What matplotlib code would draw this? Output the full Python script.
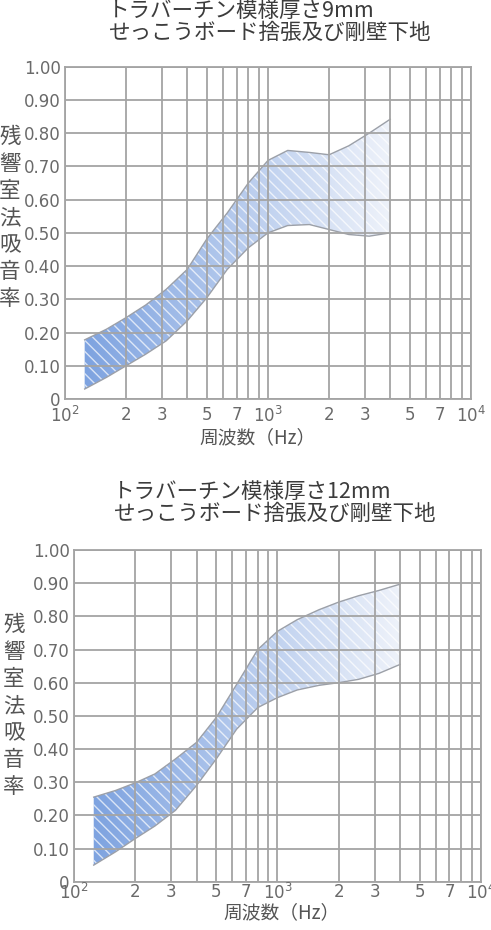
import numpy as np
import matplotlib.pyplot as plt
from matplotlib.colors import LinearSegmentedColormap

plt.rcParams['font.family'] = ['Noto Sans CJK JP', 'DejaVu Sans']
plt.rcParams['mathtext.fontset'] = 'dejavusans'
plt.rcParams['hatch.linewidth'] = 1.0

# 1/3 octave centre frequencies (Hz)
freqs = [125, 160, 200, 250, 315, 400, 500, 630, 800, 1000, 1250, 1600, 2000, 2500, 3150, 4000]

# 9mm board: upper / lower limits of the band
upper_9mm = [0.178, 0.21, 0.245, 0.283, 0.33, 0.39, 0.482, 0.56, 0.65, 0.718, 0.748, 0.742, 0.735, 0.762, 0.80, 0.842]
lower_9mm = [0.03, 0.065, 0.10, 0.135, 0.175, 0.235, 0.305, 0.39, 0.455, 0.50, 0.522, 0.525, 0.51, 0.495, 0.49, 0.50]

# 12mm board
upper_12mm = [0.255, 0.275, 0.298, 0.325, 0.37, 0.42, 0.495, 0.595, 0.70, 0.755, 0.79, 0.82, 0.843, 0.862, 0.878, 0.897]
lower_12mm = [0.05, 0.09, 0.13, 0.168, 0.215, 0.29, 0.37, 0.46, 0.525, 0.555, 0.578, 0.592, 0.60, 0.61, 0.628, 0.655]

titles = ['トラバーチン模様厚さ9mm\nせっこうボード捨張及び剛壁下地',
          'トラバーチン模様厚さ12mm\nせっこうボード捨張及び剛壁下地']
ytick_vals = [0, 0.1, 0.2, 0.3, 0.4, 0.5, 0.6, 0.7, 0.8, 0.9, 1.0]
ytick_labels = ['0', '0.10', '0.20', '0.30', '0.40', '0.50', '0.60', '0.70', '0.80', '0.90', '1.00']
xlabelled = {100: r'$10^2$', 200: '2', 300: '3', 500: '5', 700: '7',
             1000: r'$10^3$', 2000: '2', 3000: '3', 5000: '5', 7000: '7', 10000: r'$10^4$'}
ylabel = '残響室法吸音率'
xlabel = '周波数（Hz）'

grid_col = '#a4a4a4'
text_col = '#6a6a6a'
band_cmap = LinearSegmentedColormap.from_list('band', ['#7ea3e0', '#eef2fa'])

W, H = 491, 930
fig = plt.figure(figsize=(W / 100, H / 100), dpi=100)


def panel(rect, lower, upper, title, title_xy, ylab_x, ylab_y0, xlab_pos, xpad):
    ax = fig.add_axes(rect)
    ax.set_xscale('log')
    ax.set_xlim(100, 10000)
    ax.set_ylim(0, 1)
    ax.set_autoscale_on(False)

    # hatched band (white stripes) + gradient underneath, clipped to band
    band = ax.fill_between(freqs, lower, upper, facecolor='none',
                           edgecolor=(1, 1, 1, 0.7), hatch='\\' * 3,
                           linewidth=0, zorder=1.2)
    xa = np.linspace(0, 1, 400)
    a0 = (np.log10(freqs[0]) - 2) / 2
    a1 = (np.log10(freqs[-1]) - 2) / 2
    grad = np.clip((xa - a0) / (a1 - a0), 0, 1).reshape(1, -1)
    im = ax.imshow(grad, cmap=band_cmap, extent=[0, 1, 0, 1], transform=ax.transAxes,
                   aspect='auto', zorder=1, interpolation='bilinear')
    im.set_clip_path(band.get_paths()[0], transform=band.get_transform())
    ax.plot(freqs, upper, color='#9ca0a8', lw=1.0, zorder=1.3)
    ax.plot(freqs, lower, color='#9ca0a8', lw=1.0, zorder=1.3)

    # grid at every 1..9 x decade
    xgrid = [m * 10 ** d for d in (2, 3) for m in range(1, 10)] + [10000]
    ax.set_xticks(xgrid, [xlabelled.get(v, '') for v in xgrid],
                  fontfamily='DejaVu Sans')
    ax.xaxis.set_minor_locator(plt.NullLocator())
    ax.set_yticks(ytick_vals, ytick_labels, fontfamily='DejaVu Sans')
    ax.tick_params(length=0, labelsize=12, labelcolor=text_col)
    ax.tick_params(axis='x', pad=xpad)
    ax.tick_params(axis='y', pad=3)
    ax.set_axisbelow(False)
    ax.grid(True, color=grid_col, lw=1.3)
    for s in ax.spines.values():
        s.set_color(grid_col)
        s.set_linewidth(1.3)

    ax.text(xlab_pos[0], xlab_pos[1], xlabel, transform=ax.transAxes, ha='center',
            va='center', fontsize=13.5, color='#555555')
    fig.text(title_xy[0] / W, 1 - title_xy[1] / H, title, ha='left', va='top',
             fontsize=15.5, color='#3c3c3c', linespacing=1.0)
    for i, ch in enumerate(ylabel):
        fig.text(ylab_x / W, 1 - (ylab_y0 + 27 * i) / H, ch, ha='center', va='center',
                 fontsize=15.5, color='#555555')
    return ax


panel([65 / W, 1 - 399 / H, 406 / W, 332.3 / H], lower_9mm, upper_9mm, titles[0],
      (108, 0), 10, 137, (0.475, -0.115), 5)
panel([74 / W, 1 - 881.7 / H, 407 / W, 331.7 / H], lower_12mm, upper_12mm, titles[1],
      (113, 481), 14, 625, (0.51, -0.093), 1)

fig.savefig('out.png', dpi=100)
